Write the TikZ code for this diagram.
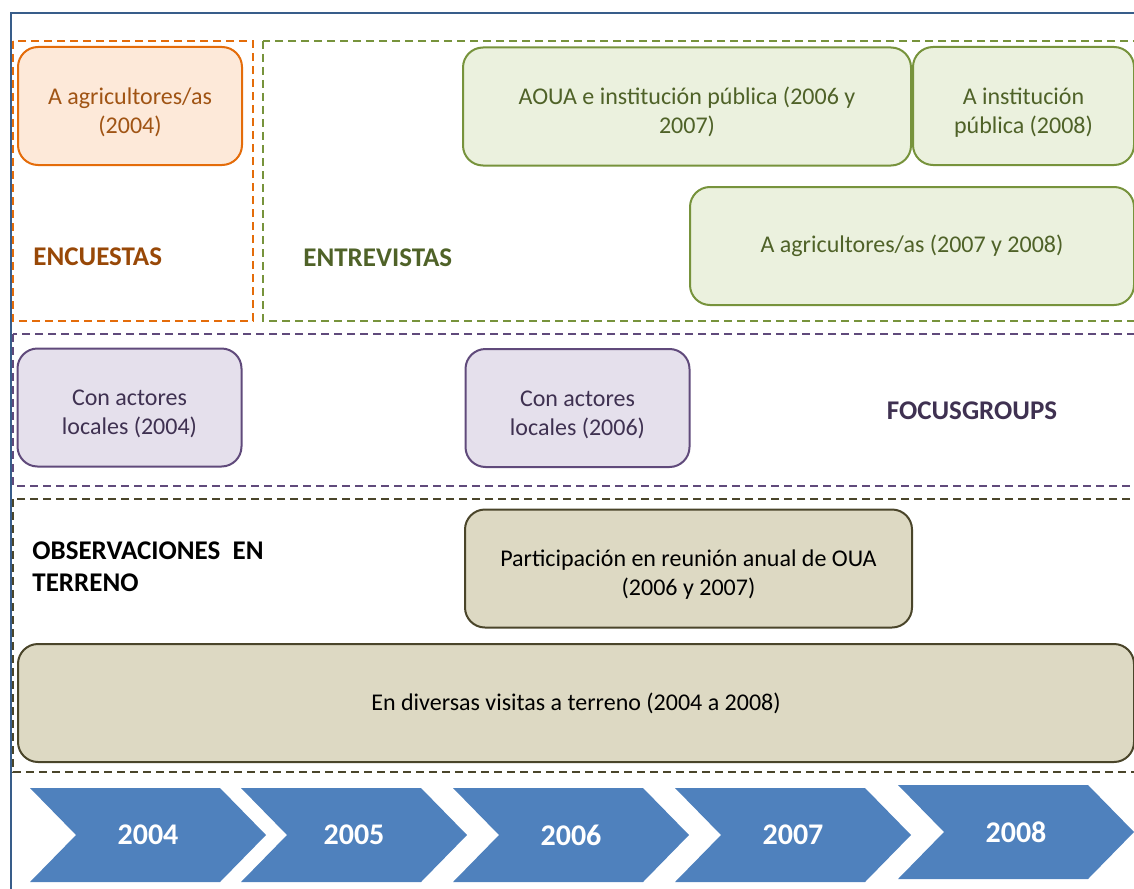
\documentclass[tikz,border=0pt]{standalone}
\usepackage{fontspec}
\setmainfont{Carlito}
\usepackage{tikz}
\definecolor{frameblue}{RGB}{56,93,138}
\definecolor{encline}{RGB}{228,108,10}
\definecolor{encfill}{RGB}{253,233,217}
\definecolor{enctext}{RGB}{152,72,7}
\definecolor{encboxtext}{RGB}{160,84,20}
\definecolor{entline}{RGB}{119,147,60}
\definecolor{entfill}{RGB}{235,241,222}
\definecolor{enttext}{RGB}{79,98,40}
\definecolor{focline}{RGB}{96,74,123}
\definecolor{focfill}{RGB}{229,224,236}
\definecolor{foctext}{RGB}{63,49,81}
\definecolor{obsline}{RGB}{74,69,42}
\definecolor{obsfill}{RGB}{221,217,195}
\definecolor{chevblue}{RGB}{79,129,189}
\newcommand{\heightbox}{59pt}
\newcommand{\widthsmall}{112pt}
\newcommand{\widthwide}{224pt}
\tikzset{
    common/.style={draw, rectangle, rounded corners=10pt, line width=1pt, minimum height=\heightbox,
        align=center, inner sep=2pt, font=\fontsize{12}{14.5}\selectfont},
    twoline/.style={text height=29pt},
    enc/.style={common, draw=encline, fill=encfill, text=encboxtext},
    ent/.style={common, draw=entline, fill=entfill, text=enttext},
    foc/.style={common, draw=focline, fill=focfill, text=foctext},
    obs/.style={common, draw=obsline, fill=obsfill, text=black},
    group/.style={dash pattern=on 4pt off 2.5pt, line width=0.8pt},
    title/.style={anchor=west, align=left, inner sep=0pt, font=\fontsize{13.5}{16}\selectfont\bfseries},
    year/.style={text=white, font=\fontsize{15}{17}\selectfont\bfseries},
    chevron/.style={fill=chevblue}
}

\begin{document}
\begin{tikzpicture}[x=0.5pt, y=-0.5pt]
      \useasboundingbox (0,0) rectangle (1134,888);
      \clip (0,0) rectangle (1134,888);

      \draw[frameblue, line width=1pt] (11,892) -- (11,13) -- (1150,13);

      % dashed groups
      \draw[group, encline] (13,41) rectangle (253,321);
      \draw[group, entline] (263,41) rectangle (1150,321);
      \draw[group, focline] (13,334) rectangle (1150,486);
      \draw[group, obsline] (13,499) rectangle (1150,772);

      \path
          (130,106) node[enc, twoline, minimum width=\widthsmall] (enc-agr) {A agricultores/as\\(2004)}
          (687,106.5) node[ent, twoline, minimum width=\widthwide] (ent-aoua) {AOUA e institución pública (2006 y\\2007)}
          (1023.5,106) node[ent, twoline, minimum width=110.5pt] (ent-inst) {A institución\\pública (2008)}
          (912,246) node[ent, minimum width=222pt] (ent-agr) {A agricultores/as (2007 y 2008)}
          (129.5,407.5) node[foc, twoline, minimum width=\widthsmall] (foc-2004) {Con actores\\locales (2004)}
          (577.5,408) node[foc, twoline, minimum width=\widthsmall] (foc-2006) {Con actores\\locales (2006)}
          (688.5,568.5) node[obs, twoline, minimum width=223.5pt] (obs-oua) {Participación en reunión anual de OUA\\(2006 y 2007)}
          (576,703) node[obs, minimum width=558pt] (obs-visitas) {En diversas visitas a terreno (2004 a 2008)};

      \path
          (33,257) node[title, text=enctext] (enc-title) {ENCUESTAS}
          (303,258) node[title, text=enttext] (ent-title) {ENTREVISTAS}
          (972,411) node[title, anchor=center, text=foctext] (foc-title) {FOCUSGROUPS}
          (32,567) node[title, text=black] (obs-title) {OBSERVACIONES\ \ EN\\TERRENO};

      % timeline
      \foreach \x/\w/\t/\yr in {30/190/788/2004, 241/180/788/2005, 453/190/788/2006, 675/190/788/2007, 898/190/785/2008} {
          \fill[chevron] (\x,\t) -- ++(\w,0) -- ++(46,47) -- ++(-46,47) -- ++(-\w,0) -- ++(46,-47) -- cycle;
          \path (\x+\w/2+23,\t+47) node[year] (year-\yr) {\yr};
      }
    \end{tikzpicture}
\end{document}
